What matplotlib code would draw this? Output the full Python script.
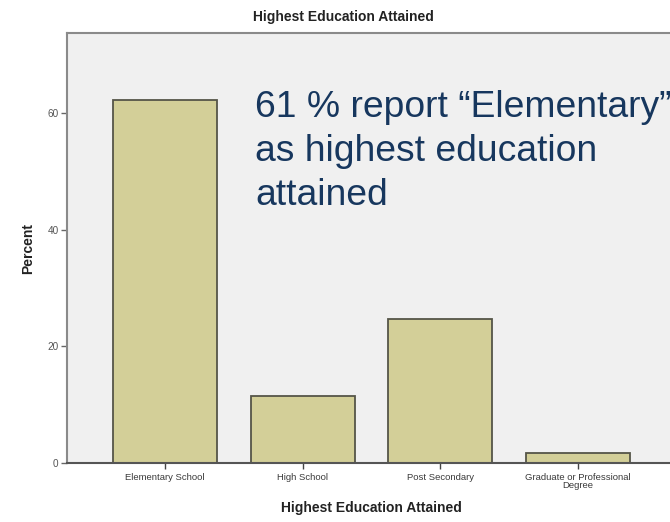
import matplotlib
matplotlib.use("Agg")
import matplotlib.pyplot as plt

categories = ["Elementary School", "High School", "Post Secondary", "Graduate or Professional\nDegree"]
percent = [62.3, 11.5, 24.6, 1.7]
yticks = [0, 20, 40, 60]
note_lines = ["61 % report \u201cElementary\u201d", "as highest education", "attained"]

plt.rcParams['font.family'] = ['Liberation Sans', 'DejaVu Sans']

fig = plt.figure(figsize=(6.7, 5.22), dpi=100)
fig.patch.set_facecolor('white')
ax = fig.add_axes([67/670, 59/522, 609/670, 430/522])
ax.set_facecolor('#f0f0f0')

x = list(range(len(categories)))
ax.bar(x, percent, width=0.755, color='#d3cf98', edgecolor='#555548', linewidth=1.3, zorder=2)

ax.set_xlim(-0.713, len(categories) - 1 + 0.713)
ax.set_ylim(0, 73.7)
ax.set_yticks(yticks)
ax.set_yticklabels([str(v) for v in yticks], fontsize=7.2, color='#555555')
ax.set_xticks(x)
ax.set_xticklabels(categories, fontsize=6.8, color='#3a3a3a', linespacing=0.85)
ax.tick_params(axis='y', length=4, width=1, color='#666666', pad=2)
ax.tick_params(axis='x', length=4, width=1, color='#444444', pad=3)

for s in ['top', 'left']:
    ax.spines[s].set_color('#8a8a8a')
    ax.spines[s].set_linewidth(1.5)
ax.spines['bottom'].set_color('#555555')
ax.spines['bottom'].set_linewidth(1.5)
ax.spines['right'].set_visible(False)

ax.set_ylabel("Percent", fontsize=10, fontweight='bold', labelpad=9, color='#222222')
ax.set_xlabel("Highest Education Attained", fontsize=10, fontweight='bold', labelpad=8, color='#222222')
fig.text(343/670, 1 - 17/522, "Highest Education Attained", fontsize=10, fontweight='bold',
         ha='center', va='center', color='#222222')

baselines = [117, 161, 205]
for line, yb in zip(note_lines, baselines):
    fig.text(255/670, 1 - yb/522, line, fontsize=26.8, color='#17375e', ha='left', va='baseline')

fig.savefig("out.png", dpi=100)
